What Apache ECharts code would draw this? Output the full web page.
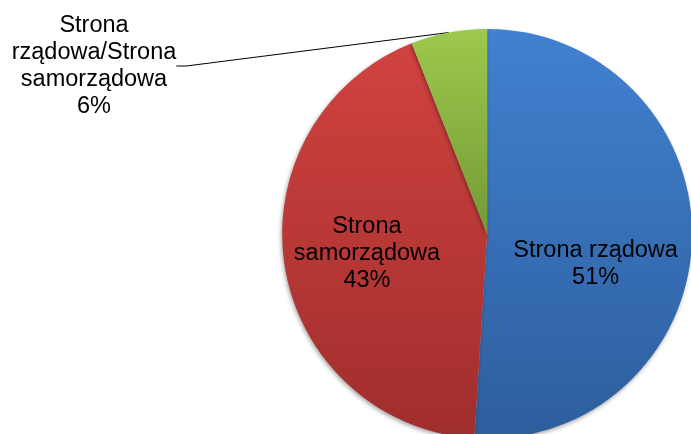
<!DOCTYPE html>
<html>
<head>
<meta charset="utf-8">
<script src="https://cdn.jsdelivr.net/npm/echarts@6/dist/echarts.min.js"></script>
<style>
html,body{margin:0;padding:0;background:#fff;}
#chart{width:691px;height:434px;}
</style>
</head>
<body>
<div id="chart"></div>
<script>
const categories = ['Strona rządowa', 'Strona samorządowa', 'Strona rządowa/Strona samorządowa'];
const labelTexts = ['Strona rządowa', 'Strona\nsamorządowa', 'Strona\nrządowa/Strona\nsamorządowa'];
const values = [51, 43, 6];
const topColors = ['#4181d1', '#d1423f', '#9dc94d'];
const bottomColors = ['#2d5e9c', '#9f2e2d', '#739a36'];

const chart = echarts.init(document.getElementById('chart'), null, {renderer: 'canvas'});

const data = categories.map((name, i) => ({
  name: name,
  value: values[i],
  itemStyle: {
    color: new echarts.graphic.LinearGradient(0, 0, 0, 1, [
      {offset: 0, color: topColors[i]},
      {offset: 1, color: bottomColors[i]}
    ])
  },
  label: i < 2 ? {position: 'inside'} : {position: 'outside'},
  labelLine: {show: i === 2}
}));

chart.setOption({
  animation: false,
  backgroundColor: '#ffffff',
  series: [{
    type: 'pie',
    center: ['70.5%', '53.9%'],
    radius: 205,
    startAngle: 90,
    clockwise: true,
    avoidLabelOverlap: false,
    data: data,
    itemStyle: {
      borderWidth: 0,
      shadowBlur: 4,
      shadowOffsetY: 2,
      shadowOffsetX: -1,
      shadowColor: 'rgba(0,0,0,0.35)'
    },
    label: {
      show: true,
      fontFamily: 'Liberation Sans, Arial, sans-serif',
      fontSize: 23.5,
      lineHeight: 27,
      color: '#000',
      align: 'center',
      formatter: p => labelTexts[p.dataIndex] + '\n' + p.percent.toFixed(0) + '%'
    },
    labelLine: {
      show: true,
      length: 10,
      length2: 10,
      lineStyle: {color: '#000', width: 1}
    },
    labelLayout: function (params) {
      const i = params.dataIndex;
      if (i === 2) {
        return {x: 94, y: 66, align: 'center', verticalAlign: 'middle'};
      }
      if (i === 0) {
        return {dx: 3, dy: 27};
      }
      return {dx: -16, dy: 3};
    }
  }]
});
</script>
</body>
</html>
